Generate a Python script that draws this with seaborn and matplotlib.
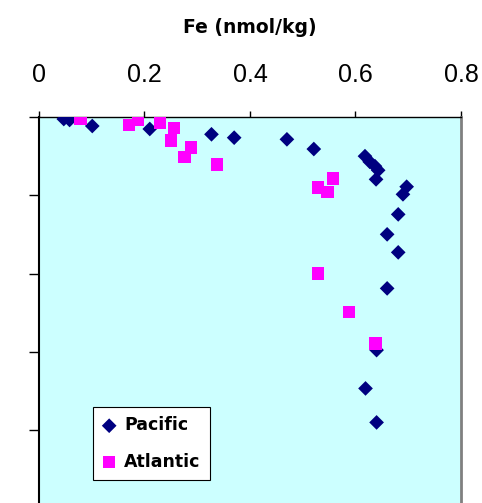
import numpy as np
import pandas as pd
import seaborn as sns
from matplotlib import pyplot as plt

# Fe profiles (depth in m, Fe in nmol/kg)
pacific_fe = [0.047, 0.058, 0.101, 0.210, 0.327, 0.370, 0.470, 0.521,
              0.618, 0.627, 0.637, 0.643, 0.639, 0.697, 0.690, 0.681,
              0.660, 0.681, 0.660, 0.640, 0.619, 0.640]
pacific_depth = [26, 38, 115, 153, 221, 264, 285, 409,
                 500, 572, 628, 680, 796, 890, 987, 1243,
                 1498, 1728, 2188, 2976, 3465, 3899]

atlantic_fe = [0.079, 0.171, 0.188, 0.229, 0.256, 0.250, 0.288, 0.276,
               0.338, 0.557, 0.529, 0.547, 0.529, 0.588, 0.638]
atlantic_depth = [26, 102, 38, 68, 137, 298, 392, 507,
                  604, 783, 898, 954, 1996, 2490, 2890]

x_ticks = [0, 0.2, 0.4, 0.6, 0.8]
x_tick_labels = ["0", "0.2", "0.4", "0.6", "0.8"]
y_ticks = [0, 1000, 2000, 3000, 4000, 5000]

pacific = pd.DataFrame({"Fe": pacific_fe, "Depth": pacific_depth})
atlantic = pd.DataFrame({"Fe": atlantic_fe, "Depth": atlantic_depth})

sns.set_theme(style="ticks")
plt.rcParams["font.family"] = ["Liberation Sans", "DejaVu Sans"]
plt.rcParams["text.color"] = "black"
plt.rcParams["axes.labelcolor"] = "black"
plt.rcParams["xtick.color"] = "black"
plt.rcParams["ytick.color"] = "black"

fig = plt.figure(figsize=(4.82, 5.03), dpi=100)
fig.patch.set_facecolor("white")
# axes runs past the bottom edge of the figure, like the cropped original
ax = fig.add_axes([0.0809, -0.167, 0.8755, 0.9344])
ax.set_facecolor("#CCFFFF")

sns.scatterplot(data=pacific, x="Fe", y="Depth", marker="D", s=56,
                color="#000080", edgecolor="none", label="Pacific", ax=ax, zorder=3)
sns.scatterplot(data=atlantic, x="Fe", y="Depth", marker="s", s=80,
                color="#FF00FF", edgecolor="none", label="Atlantic", ax=ax, zorder=4)

ax.set_xlim(0, 0.8)
ax.set_ylim(6000, 0)
ax.xaxis.tick_top()
ax.xaxis.set_label_position("top")
ax.set_xticks(x_ticks)
ax.set_xticklabels(x_tick_labels)
ax.set_yticks(y_ticks)
ax.set_yticklabels([])
ax.tick_params(axis="x", direction="out", length=4.5, width=1, color="black",
               labelcolor="black", labelsize=18, pad=17)
ax.tick_params(axis="y", direction="out", length=7, width=1, color="black")
ax.set_ylabel("")
ax.set_xlabel("Fe (nmol/kg)", fontsize=13.5, fontweight="bold",
              family="DejaVu Sans", color="black", labelpad=22)

ax.spines["left"].set_color("black")
ax.spines["left"].set_linewidth(1.5)
ax.spines["top"].set_color("black")
ax.spines["top"].set_linewidth(1)
ax.spines["right"].set_visible(True)
ax.spines["right"].set_color("#808080")
ax.spines["right"].set_linewidth(2)
ax.spines["bottom"].set_visible(False)

leg = ax.legend(loc="upper left", bbox_to_anchor=(0.1923, 0.1914),
                bbox_transform=fig.transFigure, frameon=True, fancybox=False,
                edgecolor="black", facecolor="white", framealpha=1,
                prop={"family": "DejaVu Sans", "weight": "bold", "size": 12.5},
                handlelength=0.8, handletextpad=0.45, labelspacing=1.05,
                borderpad=0.55, borderaxespad=0, markerscale=1.0)
leg.get_frame().set_linewidth(0.8)
for t in leg.get_texts():
    t.set_color("black")

plt.savefig("out.png", dpi=100)
